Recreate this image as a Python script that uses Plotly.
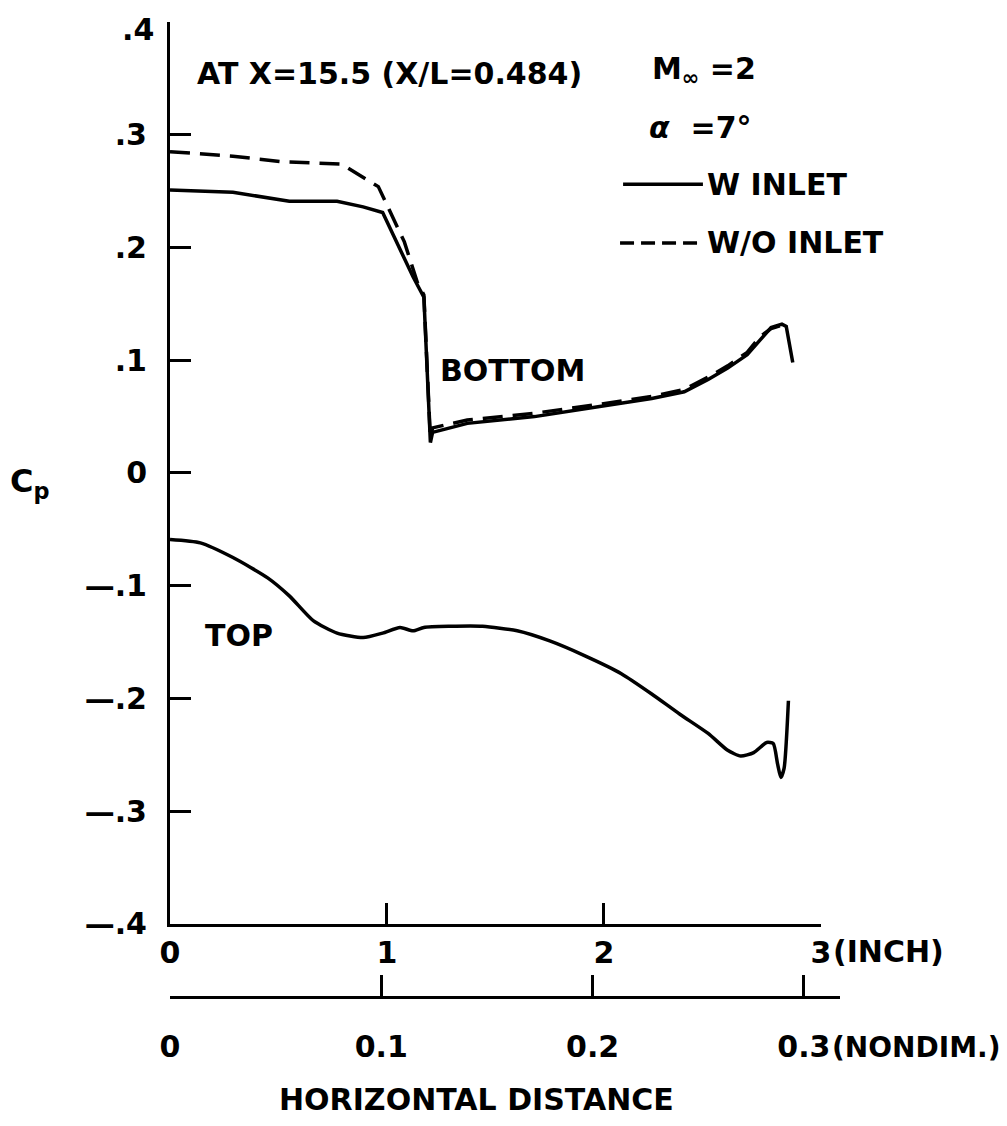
import plotly.graph_objects as go

# bottom surface, with inlet (solid)
x_bot_w = [0.0, 0.29, 0.55, 0.77, 0.89, 0.98, 1.12, 1.15, 1.17, 1.20, 1.21, 1.37, 1.68, 1.98,
           2.22, 2.37, 2.48, 2.57, 2.66, 2.72, 2.77, 2.82, 2.84, 2.87]
cp_bot_w = [0.251, 0.249, 0.241, 0.241, 0.236, 0.231, 0.174, 0.163, 0.156, 0.027, 0.036, 0.044,
            0.050, 0.059, 0.066, 0.072, 0.083, 0.093, 0.105, 0.118, 0.129, 0.132, 0.130, 0.098]

# bottom surface, without inlet (dashed)
x_bot_wo = [0.0, 0.29, 0.52, 0.79, 0.96, 0.98, 1.08, 1.14, 1.17, 1.20, 1.21, 1.37, 1.68, 1.98,
            2.22, 2.37, 2.48, 2.57, 2.66, 2.72, 2.77, 2.82, 2.84]
cp_bot_wo = [0.285, 0.281, 0.276, 0.274, 0.254, 0.246, 0.205, 0.169, 0.158, 0.030, 0.040, 0.047,
             0.053, 0.061, 0.068, 0.074, 0.085, 0.095, 0.107, 0.121, 0.128, 0.131, 0.130]

# top surface
x_top = [0.0, 0.14, 0.29, 0.45, 0.55, 0.66, 0.77, 0.89, 0.98, 1.06, 1.12, 1.17, 1.29, 1.44, 1.60,
         1.75, 1.91, 2.08, 2.22, 2.35, 2.48, 2.57, 2.63, 2.69, 2.75, 2.78, 2.80, 2.815, 2.83, 2.85]
cp_top = [-0.059, -0.062, -0.075, -0.093, -0.109, -0.131, -0.142, -0.146, -0.142, -0.137, -0.140,
          -0.137, -0.136, -0.136, -0.140, -0.149, -0.162, -0.178, -0.196, -0.214, -0.231, -0.246,
          -0.251, -0.248, -0.239, -0.240, -0.258, -0.270, -0.262, -0.202]

y_ticks = [-0.4, -0.3, -0.2, -0.1, 0, 0.1, 0.2, 0.3, 0.4]
y_ticktext = ["—.4", "—.3", "—.2", "—.1", "0", ".1", ".2", ".3", ""]  # top label placed below
inch_ticks = [0, 1, 2, 3]
nondim_ticks = [0, 0.1, 0.2, 0.3]
nondim_text = ["0", "0.1", "0.2", "0.3"]

FONT = dict(family="DejaVu Sans", size=30, color="black", weight="bold")
LW = 3.5

fig = go.Figure()
fig.add_trace(go.Scatter(x=x_bot_wo, y=cp_bot_wo, mode="lines",
                         line=dict(color="black", width=LW, dash="20px,10px")))
fig.add_trace(go.Scatter(x=x_bot_w, y=cp_bot_w, mode="lines",
                         line=dict(color="black", width=LW)))
fig.add_trace(go.Scatter(x=x_top, y=cp_top, mode="lines",
                         line=dict(color="black", width=LW, shape="spline", smoothing=0.6)))
# invisible trace so the nondimensional axis gets drawn
fig.add_trace(go.Scatter(x=nondim_ticks, y=[None] * len(nondim_ticks), xaxis="x2", yaxis="y",
                         mode="lines", hoverinfo="skip"))

axis_common = dict(showgrid=False, zeroline=False, showline=True, linecolor="black", linewidth=3,
                   ticks="inside", tickcolor="black", tickwidth=3, ticklen=21, tickfont=FONT,
                   automargin=False, ticklabeloverflow="allow")

# page body adds an 8px offset at top/left, so the figure is 8px smaller than the window
fig.update_layout(
    width=999, height=1118,
    margin=dict(l=162, r=167, t=14, b=129),
    paper_bgcolor="white", plot_bgcolor="rgba(0,0,0,0)",
    showlegend=False,
    font=FONT,
    xaxis=dict(range=[0, 3], domain=[0, 0.9716], tickvals=inch_ticks,
               ticktext=[str(t) for t in inch_ticks], ticklabelstandoff=0, **axis_common),
    yaxis=dict(range=[-0.4, 0.4], domain=[0.0749, 1], tickvals=y_ticks, ticktext=y_ticktext,
               ticklabelstandoff=14, **axis_common),
    xaxis2=dict(range=[0, 0.3171], domain=[0, 1], anchor="free", position=0,
                tickvals=nondim_ticks, ticktext=nondim_text, ticklabelstandoff=22, **axis_common),
)

# top tick label, nudged down so it stays inside the page
fig.add_annotation(x=0, y=0.4, xref="paper", yref="y", text=".4", showarrow=False,
                   xanchor="right", yanchor="middle", xshift=-14, yshift=-7, font=FONT)

# legend keys
fig.add_shape(type="line", xref="x", yref="y", x0=2.088, x1=2.456, y0=0.256, y1=0.256,
              line=dict(color="black", width=LW))
fig.add_shape(type="line", xref="x", yref="y", x0=2.074, x1=2.456, y0=0.204, y1=0.204,
              line=dict(color="black", width=LW, dash="14px,7px"))

notes = [
    (0.115, 0.354, "AT X=15.5 (X/L=0.484)"),
    (2.212, 0.357, "M<sub>∞</sub> =2"),
    (2.198, 0.306, "<i>α</i>  =7°"),
    (2.465, 0.256, "W INLET"),
    (2.465, 0.204, "W/O INLET"),
    (1.235, 0.0905, "BOTTOM"),
    (0.152, -0.1437, "TOP"),
]
for x, y, t in notes:
    fig.add_annotation(x=x, y=y, xref="x", yref="y", text=t, showarrow=False,
                       xanchor="left", yanchor="middle", font=FONT)

# unit suffixes and titles
fig.add_annotation(x=3, y=0.0749, xref="x", yref="paper", text="(INCH)", showarrow=False,
                   xanchor="left", yanchor="middle", xshift=10, yshift=-28, font=FONT)
fig.add_annotation(x=0.3, y=0, xref="x2", yref="paper", text="(NONDIM.)", showarrow=False,
                   xanchor="left", yanchor="middle", xshift=26, yshift=-50,
                   font=dict(FONT, size=28))
fig.add_annotation(x=0.458, y=-0.1056, xref="paper", yref="paper", text="HORIZONTAL DISTANCE",
                   showarrow=False, xanchor="center", yanchor="middle", font=FONT)
fig.add_annotation(x=-0.209, y=0.527, xref="paper", yref="paper", text="C<sub>p</sub>",
                   showarrow=False, xanchor="center", yanchor="middle", font=dict(FONT, size=32))

fig.write_html("out.html")
